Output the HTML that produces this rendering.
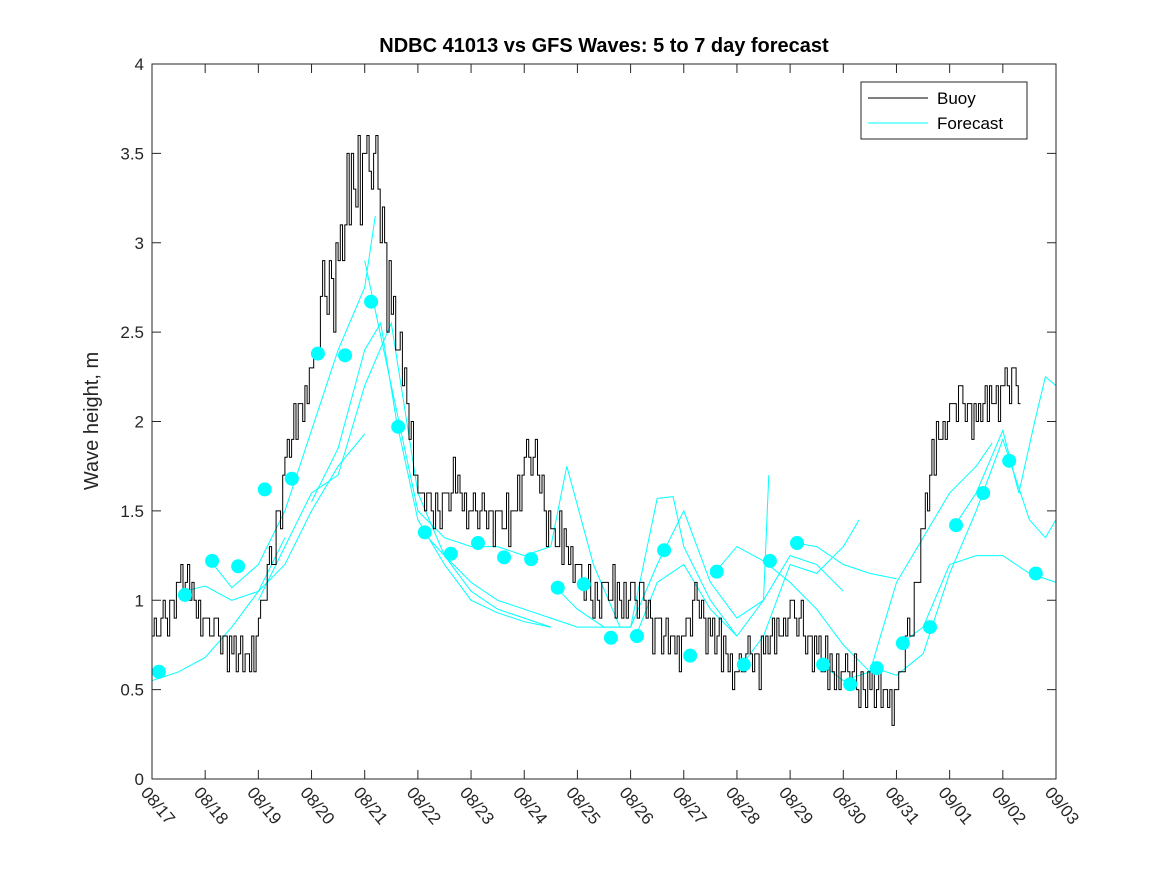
<!DOCTYPE html>
<html><head><meta charset="utf-8"><style>
html,body{margin:0;padding:0;background:#fff;}
svg{display:block;font-family:"Liberation Sans",sans-serif;}
</style></head><body>
<svg id="chart" width="1167" height="875" viewBox="0 0 1167 875" xmlns="http://www.w3.org/2000/svg">
<rect x="0" y="0" width="1167" height="875" fill="#fff"/>
<text x="604" y="52" text-anchor="middle" font-size="20" font-weight="bold" fill="#000">NDBC 41013 vs GFS Waves: 5 to 7 day forecast</text>
<text transform="translate(98,421) rotate(-90)" text-anchor="middle" font-size="20" fill="#262626">Wave height, m</text>
<g id="axes"></g>
<g id="fc"></g>
<g id="buoyg"></g>
<g id="dots"></g>
<rect x="152" y="64" width="904" height="715" fill="none" stroke="#262626" stroke-width="1"/>
<g>
<rect x="861" y="82" width="166" height="57" fill="#fff" stroke="#262626" stroke-width="1"/>
<line x1="868" y1="98" x2="928" y2="98" stroke="#000"/>
<text x="937" y="104" font-size="17" fill="#000">Buoy</text>
<line x1="868" y1="123" x2="928" y2="123" stroke="#00ffff"/>
<text x="937" y="129" font-size="17" fill="#000">Forecast</text>
</g>
</svg>
<script>
const xLabels=["08/17","08/18","08/19","08/20","08/21","08/22","08/23","08/24","08/25","08/26","08/27","08/28","08/29","08/30","08/31","09/01","09/02","09/03"];
const yTicks=[0,0.5,1,1.5,2,2.5,3,3.5,4];
const buoyValues=[0.8,0.85,1.1,1.05,0.85,0.8,0.7,0.65,0.85,1.2,1.75,2.0,2.3,2.7,2.9,3.3,3.5,3.3,2.6,2.2,1.6,1.45,1.55,1.65,1.5,1.45,1.45,1.4,1.8,1.7,1.35,1.3,1.15,1.0,1.05,1.0,1.05,0.95,0.85,0.75,0.8,0.95,0.8,0.7,0.6,0.65,0.7,0.8,0.95,0.8,0.7,0.6,0.6,0.5,0.5,0.45,0.5,0.8,1.4,1.9,2.05,2.1,2.0,2.1,2.2,2.2];
const buoyJitter=[0,0.1,0,-0.1,0.1,0.2,0,-0.1,0.1,0,-0.2,0.1,0,0.1,-0.1,0,0.2,-0.1,0.1,0,-0.1,0.1,-0.2,0];
const dotDays=[0.13,0.62,1.13,1.62,2.12,2.63,3.12,3.63,4.12,4.63,5.13,5.62,6.13,6.62,7.13,7.63,8.12,8.63,9.12,9.63,10.12,10.62,11.13,11.62,12.13,12.62,13.13,13.63,14.12,14.63,15.12,15.63,16.12,16.62];
const dotValues=[0.6,1.03,1.22,1.19,1.62,1.68,2.38,2.37,2.67,1.97,1.38,1.26,1.32,1.24,1.23,1.07,1.09,0.79,0.8,1.28,0.69,1.16,0.64,1.22,1.32,0.64,0.53,0.62,0.76,0.85,1.42,1.6,1.78,1.15];
const fcDays=[
[0,0.2,0.5,1,1.5,2,2.5],
[0.6,1,1.5,2,2.5,3,3.5,4],
[1.1,1.5,2,2.5,3,3.5,4,4.2],
[2,2.5,3,3.5,4,4.5,5,5.5,6,6.5,7,7.5],
[3,3.5,4,4.3,4.6,5,5.5,6,6.5,7,7.5],
[4,4.5,5,5.5,6,6.5,7,7.5,7.8,8.3,8.8],
[5.1,5.5,6,6.5,7,7.5,8,8.5,9,9.5,9.8,10,10.5,11],
[7.6,8,8.5,9,9.5,10,10.5,11,11.5,11.6],
[9.1,9.5,10,10.5,11,11.5,12,12.5,13],
[10.6,11,11.5,12,12.5,13,13.5,13.6],
[11.1,11.5,12,12.5,13,13.3],
[12.1,12.5,13,13.5,14],
[12.6,13,13.5,14,14.5,15,15.5,15.8],
[13.6,14,14.5,15,15.5,16,16.5,16.8,17],
[14.1,14.5,15,15.5,16,16.5,17],
[15.1,15.5,16,16.3,16.6,16.8,17]];
const fcValues=[
[0.55,0.57,0.6,0.68,0.85,1.05,1.35],
[1.05,1.08,1.0,1.05,1.2,1.5,1.75,1.93],
[1.22,1.07,1.2,1.5,1.95,2.4,2.75,3.15],
[1.0,1.3,1.6,1.7,2.2,2.55,1.6,1.25,1.05,0.95,0.9,0.85],
[1.55,1.85,2.4,2.55,2.0,1.45,1.2,1.0,0.93,0.88,0.85],
[2.9,2.2,1.5,1.35,1.3,1.3,1.25,1.3,1.75,1.2,0.85],
[1.38,1.25,1.1,1.0,0.95,0.9,0.85,0.85,0.85,1.57,1.58,1.3,1.0,0.8],
[1.07,0.95,0.85,0.85,1.2,1.5,1.1,0.9,1.0,1.7],
[0.8,1.1,1.2,0.95,0.8,1.0,1.25,1.2,1.05],
[1.16,1.3,1.22,1.1,0.95,0.75,0.6,0.6],
[0.64,0.8,1.2,1.15,1.3,1.45],
[1.32,1.3,1.2,1.15,1.12],
[0.64,0.55,0.6,1.1,1.35,1.6,1.75,1.88],
[0.62,0.58,0.7,1.15,1.5,1.9,1.45,1.35,1.45],
[0.76,0.85,1.2,1.25,1.25,1.15,1.1],
[1.42,1.6,1.95,1.6,2.0,2.25,2.2]];
const NS="http://www.w3.org/2000/svg";
const X0=152,X1=1056,Y0=779,Y1=64;
function sx(d){return X0+d*(X1-X0)/17;}
function sy(v){return Y0-v*(Y0-Y1)/4;}
function mk(tag,attrs,parent){const e=document.createElementNS(NS,tag);for(const k in attrs)e.setAttribute(k,attrs[k]);parent.appendChild(e);return e;}
const axes=document.getElementById('axes');
yTicks.forEach(v=>{
 const l1=mk('line',{x1:X0,x2:X0+9,y1:sy(v),y2:sy(v),stroke:'#262626'},axes);
 
 
 mk('line',{x1:X1-9,x2:X1,y1:sy(v),y2:sy(v),stroke:'#262626'},axes);
 const t=mk('text',{x:X0-8,y:sy(v)+6,'text-anchor':'end','font-size':'17',fill:'#262626'},axes);
 t.textContent=String(v);
 
 
});
xLabels.forEach((lab,i)=>{
 const x=sx(i);
 const l=mk('line',{x1:x,x2:x,y1:Y0,y2:Y0-9,stroke:'#262626'},axes);
 
 
 mk('line',{x1:x,x2:x,y1:Y1,y2:Y1+9,stroke:'#262626'},axes);
 const t=mk('text',{transform:`translate(${x-12},${Y0+14}) rotate(50)`,'font-size':'17',fill:'#262626'},axes);
 t.textContent=lab;
 
 
});
const fc=document.getElementById('fc');
fcDays.forEach((ds,i)=>{
 const pts=ds.map((d,j)=>sx(d).toFixed(1)+','+sy(fcValues[i][j]).toFixed(1)).join(' ');
 const p=mk('polyline',{points:pts,fill:'none',stroke:'#00ffff','stroke-width':'1'},fc);
 
 
});
const bg=document.getElementById('buoyg');
let pts=[];
const SUB=6;
buoyValues.forEach((v,i)=>{
 const vn=i+1<buoyValues.length?buoyValues[i+1]:v;
 for(let k=0;k<SUB;k++){
  const d=i*0.25+k*0.25/SUB;
  if(d>16.3)break;
  const base=v+(vn-v)*k/SUB;
  const amp=base>2.5?1.5:0.7;
  const jv=Math.round((base+buoyJitter[(i*SUB+k)%buoyJitter.length]*amp)*10)/10;
  pts.push(sx(d).toFixed(1)+','+sy(jv).toFixed(1));
  pts.push(sx(d+0.25/SUB).toFixed(1)+','+sy(jv).toFixed(1));
 }
});
const bl=mk('polyline',{points:pts.join(' '),fill:'none',stroke:'#000','stroke-width':'1'},bg);


const dots=document.getElementById('dots');
dotDays.forEach((d,i)=>{
 const c=mk('circle',{cx:sx(d),cy:sy(dotValues[i]),r:7,fill:'#00ffff'},dots);
 
 
});
</script>
</body></html>
